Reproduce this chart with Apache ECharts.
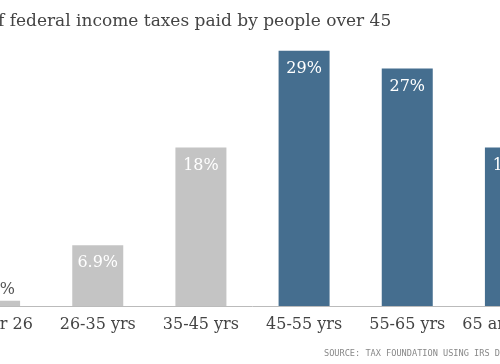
<!DOCTYPE html>
<html><head><meta charset="utf-8">
<script src="https://cdn.jsdelivr.net/npm/echarts@6/dist/echarts.min.js"></script>
<style>html,body{margin:0;padding:0;background:#fff;overflow:hidden;width:500px;height:364px;position:relative}#c{position:absolute;left:-57px;top:0;width:619px;height:364px}</style>
</head><body><div id="c"></div>
<script>
var categories = ["Under 26", "26-35 yrs", "35-45 yrs", "45-55 yrs", "55-65 yrs", "65 and over"];
var shares = [0.6, 6.9, 18, 29, 27, 18];
var shareLabels = ["0.6%", "6.9%", "18%", "29%", "27%", "18%"];
var over45 = [false, false, false, true, true, true];
var titleText = "f federal income taxes paid by people over 45";
var sourceText = "SOURCE: TAX FOUNDATION USING IRS DATA";

var GRAY = "#c4c4c4", BLUE = "#456e8f";
var OFFSET = 57; // container is shifted left so edge bars are cropped like the reference
var chart = echarts.init(document.getElementById('c'), null, {renderer: 'canvas'});
var data = shares.map(function (v, i) {
  var small = v < 3;
  return {
    value: v,
    itemStyle: {color: over45[i] ? BLUE : GRAY},
    label: {
      show: true,
      formatter: shareLabels[i],
      position: small ? 'top' : 'insideTop',
      distance: small ? 3 : 10,
      color: small ? '#555' : '#fff',
      fontFamily: 'DejaVu Serif',
      fontSize: 16
    }
  };
});
chart.setOption({
  animation: false,
  backgroundColor: '#fff',
  grid: {left: 0, right: 0, top: 42, bottom: 58, containLabel: false},
  xAxis: {
    type: 'category',
    data: categories,
    axisTick: {show: false},
    axisLine: {lineStyle: {color: '#bbb', width: 1}},
    axisLabel: {color: '#444', fontFamily: 'DejaVu Serif', fontSize: 16, margin: 11, interval: 0}
  },
  yAxis: {type: 'value', min: 0, max: 30, show: false, splitLine: {show: false}},
  series: [{type: 'bar', data: data, barWidth: 51}],
  graphic: [
    {type: 'text', left: OFFSET - 2, top: 13, style: {text: titleText, fill: '#444', font: '17px "DejaVu Serif"'}},
    {type: 'text', left: OFFSET + 324, top: 349, style: {text: sourceText, fill: '#888', font: '8.6px "DejaVu Sans Mono"'}}
  ]
});
</script></body></html>
